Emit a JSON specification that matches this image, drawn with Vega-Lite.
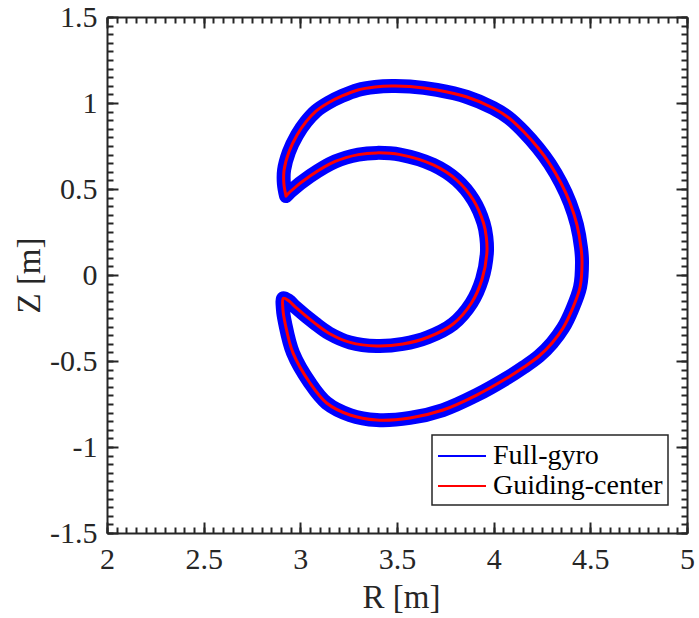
{
  "$schema": "https://vega.github.io/schema/vega-lite/v6.json",
  "width": 580,
  "height": 516,
  "autosize": {"type": "none"},
  "padding": {"left": 107, "top": 17, "right": 12, "bottom": 85},
  "background": "white",
  "config": {
    "font": "Liberation Serif",
    "view": {"stroke": null},
    "style": {"guide-label": {"font": "Liberation Serif"}, "guide-title": {"font": "Liberation Serif"}},
    "axis": {
      "grid": false,
      "domainColor": "#262626",
      "domainWidth": 2,
      "tickColor": "#262626",
      "tickWidth": 2,
      "labelFont": "Liberation Serif",
      "labelFontSize": 30,
      "labelColor": "#262626",
      "titleFont": "Liberation Serif",
      "titleFontSize": 33,
      "titleColor": "#262626",
      "titleFontWeight": "normal",
      "labelOverlap": false,
      "labelFlush": false,
      "labelBound": false
    }
  },
  "datasets": {
    "orbit": [
      {"i": 0, "R": 2.926, "Z": 0.459},
      {"i": 1, "R": 2.915, "Z": 0.530},
      {"i": 2, "R": 2.916, "Z": 0.610},
      {"i": 3, "R": 2.941, "Z": 0.715},
      {"i": 4, "R": 2.983, "Z": 0.814},
      {"i": 5, "R": 3.029, "Z": 0.890},
      {"i": 6, "R": 3.081, "Z": 0.953},
      {"i": 7, "R": 3.143, "Z": 1.000},
      {"i": 8, "R": 3.216, "Z": 1.041},
      {"i": 9, "R": 3.298, "Z": 1.076},
      {"i": 10, "R": 3.386, "Z": 1.093},
      {"i": 11, "R": 3.474, "Z": 1.099},
      {"i": 12, "R": 3.567, "Z": 1.096},
      {"i": 13, "R": 3.707, "Z": 1.076},
      {"i": 14, "R": 3.862, "Z": 1.035},
      {"i": 15, "R": 3.997, "Z": 0.971},
      {"i": 16, "R": 4.079, "Z": 0.913},
      {"i": 17, "R": 4.157, "Z": 0.831},
      {"i": 18, "R": 4.230, "Z": 0.738},
      {"i": 19, "R": 4.291, "Z": 0.645},
      {"i": 20, "R": 4.348, "Z": 0.535},
      {"i": 21, "R": 4.395, "Z": 0.419},
      {"i": 22, "R": 4.431, "Z": 0.291},
      {"i": 23, "R": 4.452, "Z": 0.157},
      {"i": 24, "R": 4.457, "Z": 0.076},
      {"i": 25, "R": 4.447, "Z": -0.070},
      {"i": 26, "R": 4.405, "Z": -0.203},
      {"i": 27, "R": 4.359, "Z": -0.308},
      {"i": 28, "R": 4.302, "Z": -0.395},
      {"i": 29, "R": 4.235, "Z": -0.471},
      {"i": 30, "R": 4.157, "Z": -0.535},
      {"i": 31, "R": 4.069, "Z": -0.599},
      {"i": 32, "R": 3.912, "Z": -0.698},
      {"i": 33, "R": 3.738, "Z": -0.785},
      {"i": 34, "R": 3.567, "Z": -0.831},
      {"i": 35, "R": 3.395, "Z": -0.843},
      {"i": 36, "R": 3.257, "Z": -0.814},
      {"i": 37, "R": 3.136, "Z": -0.744},
      {"i": 38, "R": 3.050, "Z": -0.628},
      {"i": 39, "R": 2.962, "Z": -0.453},
      {"i": 40, "R": 2.921, "Z": -0.279},
      {"i": 41, "R": 2.910, "Z": -0.200},
      {"i": 42, "R": 2.912, "Z": -0.135},
      {"i": 43, "R": 2.940, "Z": -0.150},
      {"i": 44, "R": 2.972, "Z": -0.184},
      {"i": 45, "R": 3.076, "Z": -0.281},
      {"i": 46, "R": 3.150, "Z": -0.340},
      {"i": 47, "R": 3.257, "Z": -0.392},
      {"i": 48, "R": 3.395, "Z": -0.413},
      {"i": 49, "R": 3.531, "Z": -0.401},
      {"i": 50, "R": 3.660, "Z": -0.362},
      {"i": 51, "R": 3.790, "Z": -0.285},
      {"i": 52, "R": 3.885, "Z": -0.163},
      {"i": 53, "R": 3.940, "Z": -0.025},
      {"i": 54, "R": 3.965, "Z": 0.130},
      {"i": 55, "R": 3.962, "Z": 0.220},
      {"i": 56, "R": 3.948, "Z": 0.301},
      {"i": 57, "R": 3.895, "Z": 0.436},
      {"i": 58, "R": 3.809, "Z": 0.552},
      {"i": 59, "R": 3.688, "Z": 0.640},
      {"i": 60, "R": 3.516, "Z": 0.700},
      {"i": 61, "R": 3.395, "Z": 0.710},
      {"i": 62, "R": 3.300, "Z": 0.700},
      {"i": 63, "R": 3.180, "Z": 0.660},
      {"i": 64, "R": 3.050, "Z": 0.575},
      {"i": 65, "R": 2.947, "Z": 0.484},
      {"i": 66, "R": 2.926, "Z": 0.459}
    ]
  },
  "data": {"name": "orbit"},
  "layer": [
    {
      "mark": {"type": "line", "strokeOpacity": 0},
      "encoding": {
        "x": {"field": "R", "type": "quantitative", "scale": {"domain": [2, 5], "nice": false, "zero": false},
          "axis": {"orient": "bottom", "title": null, "labels": false, "domain": false, "tickSize": -6,
            "values": [2,2.05,2.1,2.15,2.2,2.25,2.3,2.35,2.4,2.45,2.5,2.55,2.6,2.65,2.7,2.75,2.8,2.85,2.9,2.95,3,3.05,3.1,3.15,3.2,3.25,3.3,3.35,3.4,3.45,3.5,3.55,3.6,3.65,3.7,3.75,3.8,3.85,3.9,3.95,4,4.05,4.1,4.15,4.2,4.25,4.3,4.35,4.4,4.45,4.5,4.55,4.6,4.65,4.7,4.75,4.8,4.85,4.9,4.95,5]}},
        "y": {"field": "Z", "type": "quantitative", "scale": {"domain": [-1.5, 1.5], "nice": false, "zero": false},
          "axis": {"orient": "left", "title": null, "labels": false, "domain": false, "tickSize": -6,
            "values": [-1.5,-1.45,-1.4,-1.35,-1.3,-1.25,-1.2,-1.15,-1.1,-1.05,-1,-0.95,-0.9,-0.85,-0.8,-0.75,-0.7,-0.65,-0.6,-0.55,-0.5,-0.45,-0.4,-0.35,-0.3,-0.25,-0.2,-0.15,-0.1,-0.05,0,0.05,0.1,0.15,0.2,0.25,0.3,0.35,0.4,0.45,0.5,0.55,0.6,0.65,0.7,0.75,0.8,0.85,0.9,0.95,1,1.05,1.1,1.15,1.2,1.25,1.3,1.35,1.4,1.45,1.5]}},
        "order": {"field": "i", "type": "quantitative"}
      }
    },
    {
      "mark": {"type": "line", "strokeOpacity": 0},
      "encoding": {
        "x": {"field": "R", "type": "quantitative",
          "axis": {"orient": "top", "title": null, "labels": false, "domain": false, "tickSize": -6,
            "values": [2,2.05,2.1,2.15,2.2,2.25,2.3,2.35,2.4,2.45,2.5,2.55,2.6,2.65,2.7,2.75,2.8,2.85,2.9,2.95,3,3.05,3.1,3.15,3.2,3.25,3.3,3.35,3.4,3.45,3.5,3.55,3.6,3.65,3.7,3.75,3.8,3.85,3.9,3.95,4,4.05,4.1,4.15,4.2,4.25,4.3,4.35,4.4,4.45,4.5,4.55,4.6,4.65,4.7,4.75,4.8,4.85,4.9,4.95,5]}},
        "y": {"field": "Z", "type": "quantitative",
          "axis": {"orient": "right", "title": null, "labels": false, "domain": false, "tickSize": -6,
            "values": [-1.5,-1.45,-1.4,-1.35,-1.3,-1.25,-1.2,-1.15,-1.1,-1.05,-1,-0.95,-0.9,-0.85,-0.8,-0.75,-0.7,-0.65,-0.6,-0.55,-0.5,-0.45,-0.4,-0.35,-0.3,-0.25,-0.2,-0.15,-0.1,-0.05,0,0.05,0.1,0.15,0.2,0.25,0.3,0.35,0.4,0.45,0.5,0.55,0.6,0.65,0.7,0.75,0.8,0.85,0.9,0.95,1,1.05,1.1,1.15,1.2,1.25,1.3,1.35,1.4,1.45,1.5]}},
        "order": {"field": "i", "type": "quantitative"}
      }
    },
    {
      "mark": {"type": "line", "interpolate": "catmull-rom", "strokeWidth": 14, "strokeCap": "round", "strokeJoin": "round"},
      "encoding": {
        "x": {"field": "R", "type": "quantitative",
          "axis": {"orient": "bottom", "title": "R [m]", "values": [2, 2.5, 3, 3.5, 4, 4.5, 5], "tickSize": -11,
            "labelExpr": "'' + datum.value", "labelBaseline": "alphabetic", "labelPadding": 46,
            "labelFont": "Liberation Serif", "labelFontSize": 30,
            "titleFont": "Liberation Serif", "titleFontSize": 33,
            "titleX": 294, "titleY": 74, "titleBaseline": "alphabetic", "titleAlign": "center"}},
        "y": {"field": "Z", "type": "quantitative",
          "axis": {"orient": "left", "title": "Z [m]", "values": [-1.5, -1, -0.5, 0, 0.5, 1, 1.5], "tickSize": -11,
            "labelExpr": "'' + datum.value", "labelPadding": 21,
            "labelFont": "Liberation Serif", "labelFontSize": 30,
            "titleFont": "Liberation Serif", "titleFontSize": 33,
            "titleX": -68, "titleY": 258, "titleAngle": -90, "titleBaseline": "alphabetic", "titleAlign": "center"}},
        "order": {"field": "i", "type": "quantitative"},
        "color": {"datum": "Full-gyro", "type": "nominal",
          "scale": {"domain": ["Full-gyro", "Guiding-center"], "range": ["#0000ff", "#ff0000"]},
          "legend": {"title": null, "orient": "none", "legendX": 325, "legendY": 418,
            "symbolType": "M-1.6,0H1.6", "symbolSize": 900, "symbolStrokeWidth": 2, "symbolOffset": 9,
            "labelFont": "Liberation Serif", "labelFontSize": 28, "labelColor": "#000000", "labelOffset": 15,
            "padding": 5, "rowPadding": 0, "strokeColor": "#262626", "fillColor": "white", "cornerRadius": 0,
            "labelLimit": 400,
            "encode": {"symbols": {"update": {"strokeWidth": {"value": 2}, "fill": {"value": "transparent"}}}, "legend": {"update": {"strokeWidth": {"value": 1.5}}}}}}
      }
    },
    {
      "mark": {"type": "line", "interpolate": "catmull-rom", "strokeWidth": 3, "strokeCap": "round", "strokeJoin": "round"},
      "encoding": {
        "x": {"field": "R", "type": "quantitative",
          "axis": {"orient": "top", "title": null, "labels": false, "values": [2, 2.5, 3, 3.5, 4, 4.5, 5], "tickSize": -11}},
        "y": {"field": "Z", "type": "quantitative",
          "axis": {"orient": "right", "title": null, "labels": false, "values": [-1.5, -1, -0.5, 0, 0.5, 1, 1.5], "tickSize": -11}},
        "order": {"field": "i", "type": "quantitative"},
        "color": {"datum": "Guiding-center", "type": "nominal"}
      }
    }
  ],
  "resolve": {"axis": {"x": "independent", "y": "independent"}}
}
